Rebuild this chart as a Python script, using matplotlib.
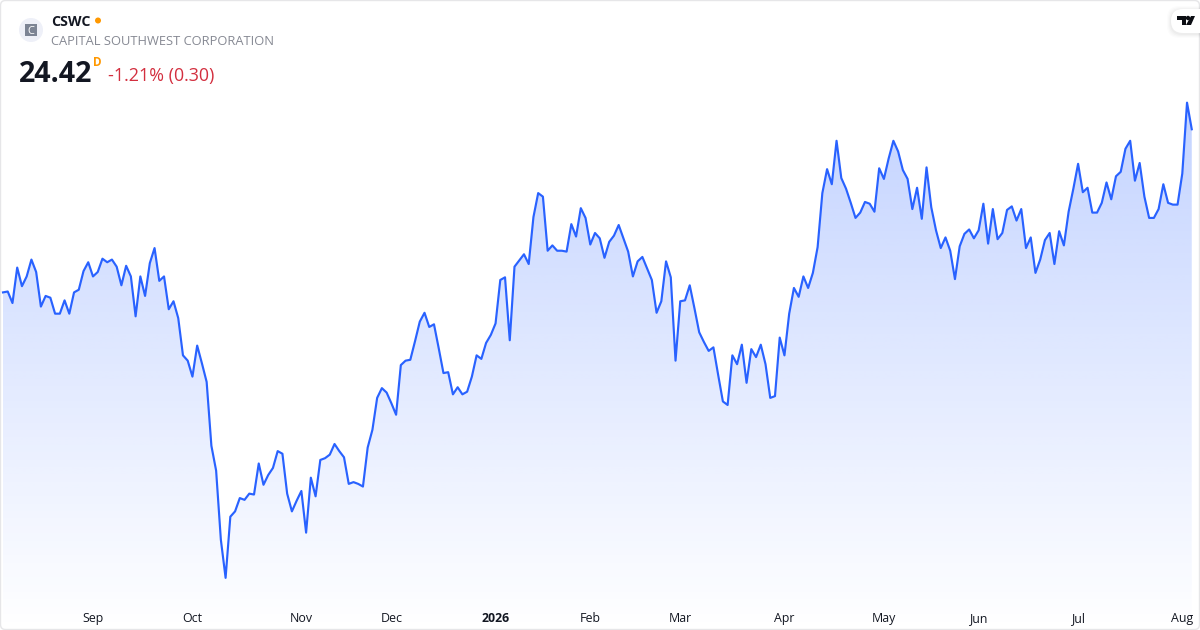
# CSWC daily close, TradingView style area chart
import matplotlib
matplotlib.use('Agg')
import matplotlib.pyplot as plt
import numpy as np
from matplotlib.patches import Circle, FancyBboxPatch, Polygon, Rectangle

plt.rcParams['font.family'] = ['Open Sans', 'DejaVu Sans']

ticker = 'CSWC'
company = 'CAPITAL SOUTHWEST CORPORATION'
last_price = '24.42'
change = '-1.21% (0.30)'

closes = [
    22.58, 22.59, 22.46, 22.86, 22.65, 22.76, 22.95, 22.81, 22.42, 22.54, 22.52, 22.34,
    22.34, 22.49, 22.34, 22.58, 22.61, 22.82, 22.92, 22.76, 22.81, 22.96, 22.92, 22.95,
    22.87, 22.66, 22.88, 22.76, 22.31, 22.76, 22.54, 22.91, 23.08, 22.71, 22.76, 22.39,
    22.48, 22.29, 21.87, 21.81, 21.63, 21.98, 21.78, 21.57, 20.85, 20.57, 19.79, 19.36,
    20.05, 20.11, 20.26, 20.24, 20.31, 20.30, 20.65, 20.41, 20.52, 20.60, 20.79, 20.76,
    20.31, 20.11, 20.23, 20.34, 19.87, 20.49, 20.28, 20.69, 20.71, 20.75, 20.87, 20.79,
    20.72, 20.42, 20.44, 20.42, 20.39, 20.83, 21.03, 21.39, 21.50, 21.45, 21.33, 21.20,
    21.76, 21.81, 21.82, 22.03, 22.25, 22.35, 22.19, 22.22, 21.95, 21.67, 21.68, 21.43,
    21.51, 21.43, 21.46, 21.63, 21.87, 21.83, 22.01, 22.10, 22.23, 22.72, 22.75, 22.04,
    22.87, 22.94, 23.01, 22.90, 23.43, 23.70, 23.66, 23.05, 23.11, 23.05, 23.05, 23.04,
    23.35, 23.21, 23.53, 23.42, 23.12, 23.25, 23.19, 22.97, 23.15, 23.22, 23.34, 23.19,
    23.04, 22.76, 22.93, 22.98, 22.85, 22.72, 22.35, 22.48, 22.93, 22.75, 21.81, 22.48,
    22.49, 22.66, 22.40, 22.13, 22.02, 21.92, 21.96, 21.65, 21.35, 21.31, 21.87, 21.77,
    21.99, 21.56, 21.94, 21.85, 21.99, 21.77, 21.39, 21.41, 22.07, 21.87, 22.34, 22.63,
    22.53, 22.76, 22.63, 22.80, 23.09, 23.70, 23.97, 23.80, 24.29, 23.87, 23.75, 23.59,
    23.42, 23.48, 23.60, 23.58, 23.49, 23.98, 23.86, 24.09, 24.29, 24.17, 23.96, 23.86,
    23.52, 23.76, 23.41, 23.99, 23.54, 23.28, 23.08, 23.20, 23.05, 22.73, 23.10, 23.24,
    23.29, 23.19, 23.28, 23.58, 23.13, 23.52, 23.18, 23.25, 23.51, 23.55, 23.39, 23.52,
    23.08, 23.20, 22.80, 22.95, 23.17, 23.25, 22.90, 23.27, 23.11, 23.49, 23.75, 24.03,
    23.71, 23.76, 23.48, 23.48, 23.59, 23.82, 23.63, 23.89, 23.94, 24.20, 24.29, 23.84,
    24.04, 23.66, 23.42, 23.42, 23.52, 23.80, 23.59, 23.57, 23.57, 23.92, 24.72, 24.42,
]
tick_days = [19, 40, 63, 82, 104, 124, 143, 165, 186, 206, 227, 249]
tick_labels = ['Sep', 'Oct', 'Nov', 'Dec', '2026', 'Feb', 'Mar', 'Apr', 'May', 'Jun', 'Jul', 'Aug']

days = np.arange(len(closes))
line_color = '#2962FF'

fig = plt.figure(figsize=(12, 6.3), dpi=100, facecolor='white')
ax = fig.add_axes([0, 0, 1, 1])
ax.set_xlim(-0.633, 252.74)
ax.set_ylim(18.772, 25.878)

# gradient under the line, clipped by the area polygon
area = ax.fill_between(days, closes, ax.get_ylim()[0], color='none', lw=0)
grad = np.zeros((256, 2, 4))
grad[:, :, :3] = matplotlib.colors.to_rgb(line_color)
grad[:, :, 3] = np.linspace(0.28, 0.0, 256)[:, None]
top_price = max(closes)
img = ax.imshow(grad, extent=(days[0], days[-1], ax.get_ylim()[0], top_price),
                origin='upper', aspect='auto', zorder=1, interpolation='bilinear')
img.set_clip_path(area.get_paths()[0], transform=ax.transData)
ax.set_xlim(-0.633, 252.74)
ax.set_ylim(18.772, 25.878)

ax.plot(days, closes, color=line_color, lw=1.55, zorder=2, solid_joinstyle='round')

ax.set_xticks(tick_days, tick_labels)
ax.set_yticks([])
ax.tick_params(axis='x', length=0, pad=-13, labelsize=8.9, labelcolor='#131722')
for lab in ax.get_xticklabels():
    if lab.get_text() == '2026':
        lab.set_fontweight('bold')
for s in ax.spines.values():
    s.set_visible(False)

# overlay in pixels for the header, badge and frame
ov = fig.add_axes([0, 0, 1, 1], facecolor='none')
ov.set_xlim(0, 1200)
ov.set_ylim(630, 0)
ov.axis('off')

ov.add_patch(FancyBboxPatch((0.5, 0.5), 1199, 629, boxstyle='round,pad=0,rounding_size=5',
                            fc='none', ec='#E6E6E8', lw=1))

# company logo
ov.add_patch(Circle((31, 30), 12, fc='#EEF0F8', ec='none'))
ov.add_patch(Rectangle((25, 24), 12, 12, fc='#7C8494', ec='none'))
ov.text(31, 30, 'C', color='white', fontsize=8, ha='center', va='center_baseline')

ov.text(51, 21, ticker, fontsize=10.2, fontweight='bold', color='#131722', va='center_baseline')
ov.add_patch(Circle((98, 20.5), 3, fc='#FF9800', ec='none'))
ov.text(51, 40.2, company, fontsize=9.25, color='#868993', va='center_baseline')
ov.text(19, 71, last_price, fontsize=20.5, fontweight='bold', color='#131722', va='center_baseline')
ov.text(93, 61, 'D', fontsize=8.5, fontweight='bold', color='#FF9800', va='center_baseline')
ov.text(108, 74.5, change, fontsize=12.9, color='#D32F3F', va='center_baseline')

# TradingView badge
for grow, alpha in [(4, 0.01), (3, 0.015), (2, 0.02), (1, 0.025)]:
    ov.add_patch(FancyBboxPatch((1171 - grow, 10 - grow), 60 + 2 * grow, 24 + 2 * grow,
                                boxstyle='round,pad=0,rounding_size=12', fc='black',
                                alpha=alpha, ec='none'))
ov.add_patch(FancyBboxPatch((1171, 9), 60, 24, boxstyle='round,pad=0,rounding_size=12',
                            fc='white', ec='none'))
ov.add_patch(Polygon([(1177, 16), (1186, 16), (1186, 25), (1182, 25), (1182, 20), (1177, 20)],
                     fc='#0C0E14', ec='none'))
ov.add_patch(Polygon([(1191, 16), (1195, 16), (1191, 25), (1186, 25)], fc='#0C0E14', ec='none'))
ov.add_patch(Circle((1188, 18), 2.2, fc='#0C0E14', ec='none'))

fig.savefig('out.png', dpi=100)
